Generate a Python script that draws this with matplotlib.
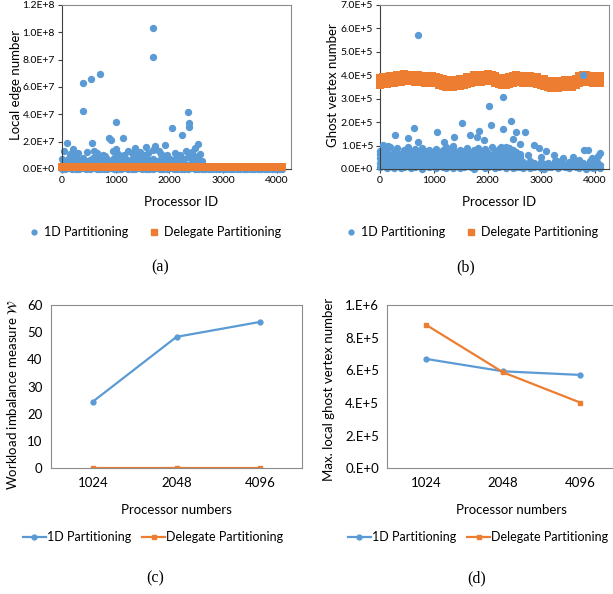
import numpy as np
import matplotlib
matplotlib.use('Agg')
import matplotlib.pyplot as plt
from matplotlib.lines import Line2D

plt.rcParams['font.family'] = ['Lato', 'DejaVu Sans']

BLUE = '#5B9BD5'
ORANGE = '#ED7D31'

# ---- (a) local edge number per processor (values in 1e6) ----
proc_ids = np.linspace(0, 4095, 64)
a_lo = [0.3, 0.1, 0.4, 0.2, 0.0, 0.3, 0.5, 0.1, 0.2, 0.4, 0.0, 0.3, 0.2, 0.1, 0.4, 0.3,
        0.0, 0.2, 0.5, 0.1, 0.3, 0.2, 0.4, 0.0, 0.1, 0.3, 0.2, 0.5, 0.1, 0.0, 0.3, 0.4,
        0.2, 0.1, 0.3, 0.0, 0.2, 0.4, 0.1, 0.3, 0.2, 0.2, 0.1, 0.3, 0.2, 0.0, 0.1, 0.2,
        0.3, 0.1, 0.2, 0.0, 0.2, 0.1, 0.3, 0.2, 0.1, 0.0, 0.2, 0.1, 0.3, 0.2, 0.1, 0.2]
a_mid = [3.1, 2.6, 3.8, 2.9, 3.5, 2.4, 3.2, 4.0, 2.7, 3.4, 3.0, 2.5, 3.7, 3.3, 2.8, 3.6,
         2.6, 3.9, 3.1, 2.7, 3.5, 3.0, 2.4, 3.8, 3.2, 2.9, 3.6, 2.5, 3.4, 3.0, 3.7, 2.8,
         3.3, 2.6, 3.9, 3.1, 2.7, 3.5, 4.2, 3.8, 2.9]
a_hi = [7.5, 6.2, 8.1, 5.8, 7.0, 6.6, 8.4, 5.9, 6.8, 7.7, 6.1, 8.0, 6.4, 7.2, 5.7, 7.9,
        6.5, 6.9, 8.3, 6.0, 7.4, 5.8, 7.1, 6.7, 8.2, 6.3, 7.6, 5.9, 6.8, 7.8, 6.2, 7.3,
        6.6, 8.0, 6.4, 7.0, 8.6, 7.7, 9.0, 8.4, 6.0]
a_sparse_id = [87, 211, 385, 546, 713, 385, 998, 868, 918, 1135, 550, 1690, 1690, 2338,
               2355, 2355, 2052, 2232, 2530, 1730, 1910, 1563, 1358, 1012, 1232, 2567,
               40, 150, 300, 460, 600, 650, 760, 950, 1050, 1150, 1300, 1450, 1520, 1600,
               1800, 1850, 1950, 2100, 2200, 2300, 2420, 2480, 2450, 2380, 1700, 1400, 800, 250]
a_sparse_val = [19.3, 14.8, 63, 66, 69.5, 42.7, 34.4, 22.9, 21, 22.9, 18.8, 103, 82, 42,
                34, 31, 29.8, 24.9, 18.3, 17, 17.5, 16, 15, 14.5, 13, 11,
                13, 11, 12, 12.5, 13.5, 12, 10.5, 13, 11, 10, 12, 12.5, 10.5, 12,
                13, 11, 10, 11.5, 10, 13, 12.5, 15, 9.5, 11, 14, 10, 9.5, 9.5]
a_del = [1.6, 1.5, 1.7, 1.6, 1.6, 1.5, 1.6, 1.7, 1.6, 1.5, 1.6, 1.6, 1.7, 1.5, 1.6, 1.6,
         1.5, 1.6, 1.7, 1.6, 1.6, 1.5, 1.6, 1.6, 1.7, 1.6, 1.5, 1.6, 1.6, 1.7, 1.6, 1.5,
         1.6, 1.6, 1.7, 1.6, 1.5, 1.6, 1.6, 1.7, 1.6, 1.5, 1.6, 1.6, 1.7, 1.6, 1.5, 1.6,
         1.6, 1.7, 1.6, 1.5, 1.6, 1.6, 1.7, 1.6, 1.5, 1.6, 1.6, 1.7, 1.6, 1.5, 1.6, 1.6]

# ---- (b) ghost vertex number per processor (values in 1e3) ----
b_lo = [8, 15, 4, 12, 6, 18, 3, 10, 14, 5, 9, 16, 2, 11, 7, 13, 5, 17, 8, 4, 12, 6,
        15, 3, 10, 14, 7, 2, 11, 16, 5, 9, 13, 4, 8, 15, 6, 12, 3, 10, 7,
        5, 12, 3, 9, 14, 6, 2, 10, 8, 13, 4, 11, 7, 3, 15, 9, 5, 12, 2, 8, 6, 10, 4]
b_q1 = [25, 31, 22, 28, 34, 20, 27, 30, 24, 33, 21, 29, 26, 32, 23, 30, 28, 19, 35, 25,
        27, 31, 22, 29, 24, 33, 26, 21, 30, 28, 34, 23, 27, 31, 20, 29, 25, 32, 26, 22, 30]
b_mid = [45, 38, 52, 41, 48, 36, 55, 43, 39, 50, 46, 37, 53, 42, 47, 40, 51, 44, 36, 49,
         45, 38, 54, 41, 47, 39, 52, 43, 37, 50, 46, 41, 55, 48, 44, 53, 40, 57, 49, 45, 35,
         28, 19, 32, 24, 15, 30, 22, 26, 18, 33, 21, 27, 16, 29, 23, 31, 20, 25, 17, 34, 22, 28, 19]
b_q3 = [62, 58, 66, 60, 55, 68, 61, 57, 64, 59, 70, 56, 63, 67, 60, 58, 65, 61, 57, 69,
        62, 59, 64, 56, 66, 60, 63, 58, 67, 61, 55, 65, 59, 62, 68, 57, 64, 60, 66, 58, 52]
b_hi = [78, 85, 70, 92, 74, 88, 66, 81, 95, 72, 84, 68, 90, 76, 83, 71, 87, 65, 79, 93,
        73, 86, 69, 82, 77, 91, 67, 80, 89, 75, 84, 70, 94, 78, 85, 72, 96, 88, 83, 74, 62]
b_sparse_id = [714, 3776, 2286, 2025, 2435, 2062, 1522, 640, 2292, 1062, 286, 1845, 2534,
               2702, 516, 1385, 1665, 1801, 1938, 2466, 714, 1199, 2857, 2963, 3093, 3236,
               3590, 3801, 3863, 4090, 4050, 50, 143, 2609, 2255, 1366, 3400, 3700, 3950,
               3000, 2750, 3300]
b_sparse_val = [573, 400, 308, 269, 206, 186, 197, 174, 169, 156, 146, 163, 159,
                156, 133, 138, 145, 135, 123, 126, 116, 116, 101, 89, 78, 58,
                52, 79, 81, 67, 55, 102, 100, 105, 95, 100, 45, 40, 48,
                50, 60, 35]
b_del_hi = [388, 391, 391, 395, 396, 400, 400, 404, 403, 403, 400, 401, 397, 398, 394, 395,
            391, 389, 382, 380, 375, 378, 379, 384, 386, 392, 394, 400, 400, 403, 402, 405,
            400, 397, 390, 388, 383, 391, 395, 402, 399, 399, 396, 396, 393, 391, 385, 383,
            377, 375, 370, 374, 374, 378, 377, 381, 386, 395, 400, 400, 396, 397, 394, 395]
b_del_mid = [374, 376, 378, 380, 383, 385, 387, 389, 390, 388, 387, 386, 384, 383, 381, 380,
             378, 374, 369, 365, 362, 363, 366, 369, 373, 377, 381, 385, 387, 388, 389, 390,
             387, 382, 377, 373, 370, 376, 382, 387, 386, 384, 383, 381, 380, 376, 372, 368,
             364, 360, 357, 359, 361, 363, 364, 366, 373, 380, 387, 385, 383, 382, 381, 380]
b_del_lo = [360, 363, 364, 367, 369, 371, 373, 376, 377, 374, 373, 372, 371, 368, 368, 366,
            365, 360, 356, 351, 349, 348, 353, 355, 360, 362, 368, 370, 374, 373, 376, 375,
            374, 367, 364, 358, 357, 362, 369, 372, 373, 369, 370, 366, 367, 361, 359, 353,
            351, 345, 344, 344, 348, 348, 351, 351, 360, 365, 374, 370, 370, 367, 368, 365]

# ---- (c), (d) line charts ----
proc_numbers = ['1024', '2048', '4096']
imb_1d = [24.5, 48.3, 53.8]
imb_del = [0.05, 0.05, 0.05]
ghost_1d = [670000, 594000, 572000]
ghost_del = [879000, 588000, 403000]

a_yticks = ['0.0E+0', '2.0E+7', '4.0E+7', '6.0E+7', '8.0E+7', '1.0E+8', '1.2E+8']
b_yticks = ['0.0E+0', '1.0E+5', '2.0E+5', '3.0E+5', '4.0E+5', '5.0E+5', '6.0E+5', '7.0E+5']
d_yticks = ['0.E+0', '2.E+5', '4.E+5', '6.E+5', '8.E+5', '1.E+6']

fig = plt.figure(figsize=(6.13, 5.94), dpi=100)

ax_a = fig.add_axes([0.1011, 0.7155, 0.3736, 0.2761])
ax_b = fig.add_axes([0.6199, 0.7155, 0.3736, 0.2761])
ax_c = fig.add_axes([0.0832, 0.2116, 0.4095, 0.2749])
ax_d = fig.add_axes([0.6321, 0.2116, 0.3770, 0.2749])

ms_c = 28  # circle size
ms_q = 26  # square size
kw_b = dict(s=ms_c, color=BLUE, lw=0, clip_on=False, zorder=2)
kw_o = dict(s=ms_q, marker='s', color=ORANGE, lw=0, clip_on=False, zorder=3)

# (a)
n_a = len(a_hi)
ax_a.scatter(proc_ids, np.array(a_lo) * 1e6, **kw_b)
ax_a.scatter(proc_ids[:n_a], np.array(a_mid) * 1e6, **kw_b)
ax_a.scatter(proc_ids[:n_a], np.array(a_hi) * 1e6, **kw_b)
ax_a.scatter(a_sparse_id, np.array(a_sparse_val) * 1e6, **kw_b)
ax_a.scatter(proc_ids, np.array(a_del) * 1e6, **kw_o)
ax_a.set_ylim(0, 1.2e8)
ax_a.set_yticks(np.arange(0, 1.21e8, 2e7))
ax_a.set_yticklabels(a_yticks)

# (b)
n_b = len(b_hi)
ax_b.scatter(proc_ids, np.array(b_lo) * 1e3, **kw_b)
ax_b.scatter(proc_ids[:n_b], np.array(b_q1) * 1e3, **kw_b)
ax_b.scatter(proc_ids, np.array(b_mid) * 1e3, **kw_b)
ax_b.scatter(proc_ids[:n_b], np.array(b_q3) * 1e3, **kw_b)
ax_b.scatter(proc_ids[:n_b], np.array(b_hi) * 1e3, **kw_b)
ax_b.scatter(proc_ids, np.array(b_del_hi) * 1e3, **kw_o)
ax_b.scatter(proc_ids, np.array(b_del_mid) * 1e3, **kw_o)
ax_b.scatter(proc_ids, np.array(b_del_lo) * 1e3, **kw_o)
ax_b.scatter(b_sparse_id, np.array(b_sparse_val) * 1e3, s=ms_c, color=BLUE, lw=0, zorder=4)
ax_b.set_ylim(0, 7e5)
ax_b.set_yticks(np.arange(0, 7.01e5, 1e5))
ax_b.set_yticklabels(b_yticks)

for ax, ylab, lx in [(ax_a, 'Local edge number', -0.175), (ax_b, 'Ghost vertex number', -0.18)]:
    ax.set_xlim(0, 4260)
    ax.set_xticks([0, 1000, 2000, 3000, 4000])
    ax.tick_params(labelsize=7.5, length=3, width=0.8, color='#404040', pad=2)
    for s in ['left', 'bottom']:
        ax.spines[s].set_color('#404040')
    for s in ['top', 'right']:
        ax.spines[s].set_color('#8c8c8c')
    ax.set_ylabel(ylab, fontsize=9.5)
    ax.yaxis.set_label_coords(lx, 0.51)
    ax.set_xlabel('Processor ID', fontsize=9.5)
    ax.xaxis.set_label_coords(0.52, -0.165)

# (c)
x = np.arange(len(proc_numbers))
ax_c.plot(x, imb_1d, color=BLUE, lw=1.6, marker='o', ms=3.5)
ax_c.plot(x, imb_del, color=ORANGE, lw=1.6, marker='s', ms=3.5)
ax_c.set_ylim(0, 60)
ax_c.set_yticks(range(0, 61, 10))
ax_c.set_ylabel('Workload imbalance measure $\\mathcal{W}$', fontsize=9.5)
ax_c.yaxis.set_label_coords(-0.125, 0.45)

# (d)
ax_d.plot(x, ghost_1d, color=BLUE, lw=1.6, marker='o', ms=3.5)
ax_d.plot(x, ghost_del, color=ORANGE, lw=1.6, marker='s', ms=3.5)
ax_d.set_ylim(0, 1e6)
ax_d.set_yticks(np.arange(0, 1.01e6, 2e5))
ax_d.set_yticklabels(d_yticks)
ax_d.set_ylabel('Max. local ghost vertex number', fontsize=9.5)
ax_d.yaxis.set_label_coords(-0.227, 0.48)

for ax in [ax_c, ax_d]:
    ax.set_xlim(-0.5, 2.5)
    ax.set_xticks(x)
    ax.set_xticklabels(proc_numbers)
    ax.tick_params(labelsize=9.5, length=0, pad=6)
    for s in ax.spines.values():
        s.set_color('#8c8c8c')
    ax.set_xlabel('Processor numbers', fontsize=9.5)
ax_c.xaxis.set_label_coords(0.5, -0.22)
ax_d.xaxis.set_label_coords(0.535, -0.22)

# legends
sc_handles = [Line2D([], [], ls='', marker='o', ms=3.5, color=BLUE),
              Line2D([], [], ls='', marker='s', ms=4, color=ORANGE)]
ln_handles = [Line2D([], [], color=BLUE, lw=1.6, marker='o', ms=3.5),
              Line2D([], [], color=ORANGE, lw=1.6, marker='s', ms=3.5)]
labels = ['1D Partitioning', 'Delegate Partitioning']
leg_kw = dict(loc='center', ncol=2, frameon=False, fontsize=9,
              bbox_transform=fig.transFigure)
ax_a.legend(sc_handles, labels, bbox_to_anchor=(0.253, 0.609),
            handlelength=0.8, columnspacing=1.6, handletextpad=0.4, **leg_kw)
ax_b.legend(sc_handles, labels, bbox_to_anchor=(0.770, 0.609),
            handlelength=0.8, columnspacing=1.6, handletextpad=0.4, **leg_kw)
ax_c.legend(ln_handles, labels, bbox_to_anchor=(0.250, 0.096),
            handlelength=1.8, columnspacing=0.9, handletextpad=0.1, **leg_kw)
ax_d.legend(ln_handles, labels, bbox_to_anchor=(0.780, 0.096),
            handlelength=1.8, columnspacing=0.9, handletextpad=0.1, **leg_kw)

# captions
for cx, cy, t in [(0.261, 0.5505, '(a)'), (0.760, 0.5505, '(b)'),
                  (0.253, 0.027, '(c)'), (0.777, 0.027, '(d)')]:
    fig.text(cx, cy, t, ha='center', va='center', fontsize=11.5,
             family='Liberation Serif')

fig.savefig('out.png', dpi=100)
